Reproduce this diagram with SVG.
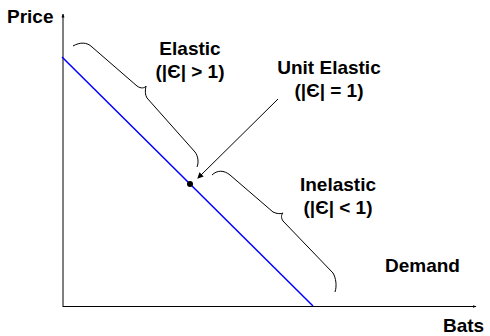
<svg xmlns="http://www.w3.org/2000/svg" width="490" height="336" viewBox="0 0 490 336">
<style>
text{font-family:"Liberation Sans",Arial,sans-serif;font-weight:bold;font-size:19px;fill:#000}
.ax{stroke:#000;stroke-width:1;fill:none}
.br{stroke:#000;stroke-width:1;fill:none}
</style>
<defs>
<marker id="ah" markerWidth="6" markerHeight="6" refX="5" refY="3" orient="auto" markerUnits="userSpaceOnUse"><path d="M0,0 L6,3 L0,6 z" fill="#000"/></marker>
<marker id="ahs" markerWidth="4" markerHeight="4" refX="3.5" refY="2" orient="auto" markerUnits="userSpaceOnUse"><path d="M0,0.5 L4,2 L0,3.5 z" fill="#000"/></marker>
</defs>
<rect width="490" height="336" fill="#fff"/>
<g id="axes">
<line class="ax" x1="63" y1="307" x2="63" y2="14" marker-end="url(#ahs)"/>
<line class="ax" x1="63" y1="306.5" x2="476" y2="306.5" marker-end="url(#ahs)"/>
</g>
<g id="demand">
<line x1="62" y1="57" x2="313" y2="306" stroke="#0000ff" stroke-width="1.5"/>
</g>
<g id="unit-point"><circle cx="190" cy="184" r="3" fill="#000"/></g>
<g id="connectors">
<path class="br" d="M73,46 C80,42 87,42 92,47 L137,86 C141,89 145,88 146,86 C145,90 145,95 147,98 L195,152 C198,156 199,162 197,167"/>
<path class="br" d="M212,175 C217,170 224,170 230,175 L273,212 C277,214 281,214 283,213 C281,215 281,218 283,221 L333,273 C336,278 337,286 335,292"/>
<line x1="278" y1="99" x2="198" y2="178" stroke="#000" stroke-width="1" marker-end="url(#ah)"/>
</g>
<g id="labels">
<text x="7" y="23">Price</text>
<text x="190" y="55" text-anchor="middle">Elastic</text>
<text x="190" y="78" text-anchor="middle">(|Є| &gt; 1)</text>
<text x="329" y="74" text-anchor="middle">Unit Elastic</text>
<text x="329" y="97" text-anchor="middle">(|Є| = 1)</text>
<text x="338" y="191" text-anchor="middle">Inelastic</text>
<text x="338" y="214" text-anchor="middle">(|Є| &lt; 1)</text>
<text x="385" y="272">Demand</text>
<text x="443" y="332">Bats</text>
</g>
</svg>
